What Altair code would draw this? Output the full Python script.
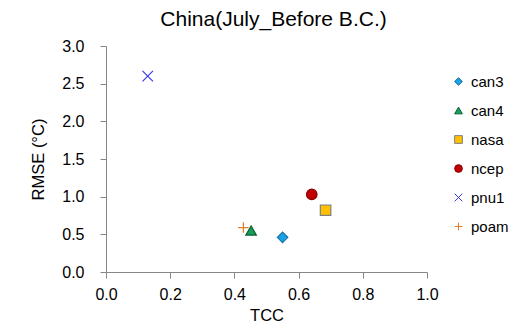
import altair as alt
import pandas as pd

models = ["can3", "can4", "nasa", "ncep", "pnu1", "poam"]
tcc = [0.55, 0.452, 0.684, 0.641, 0.13, 0.428]
rmse = [0.46, 0.55, 0.82, 1.03, 2.60, 0.59]

fill_colors = ["#1BA1E2", "#13A05A", "#FFC000", "#C00000", "transparent", "transparent"]
stroke_colors = ["#1673A8", "#0B5E33", "#7F7F7F", "#8B0000", "#3A3AF0", "#E07B29"]
shapes = ["diamond", "triangle-up", "square", "circle",
          "M-1,-1L1,1M-1,1L1,-1", "M-1,0L1,0M0,-1L0,1"]

df = pd.DataFrame({"model": models, "TCC": tcc, "RMSE": rmse})

font = "Liberation Sans"

chart = alt.Chart(df).mark_point(filled=False, strokeWidth=1.2, opacity=1, size=110).encode(
    x=alt.X("TCC:Q", title="TCC",
            scale=alt.Scale(domain=[0, 1], nice=False, zero=True),
            axis=alt.Axis(values=[0, 0.2, 0.4, 0.6, 0.8, 1.0], format=".1f")),
    y=alt.Y("RMSE:Q", title="RMSE (°C)",
            scale=alt.Scale(domain=[0, 3], nice=False),
            axis=alt.Axis(values=[0, 0.5, 1, 1.5, 2, 2.5, 3], format=".1f")),
    fill=alt.Fill("model:N", scale=alt.Scale(domain=models, range=fill_colors), title=None),
    stroke=alt.Stroke("model:N", scale=alt.Scale(domain=models, range=stroke_colors), title=None),
    shape=alt.Shape("model:N", scale=alt.Scale(domain=models, range=shapes), title=None),
).properties(
    width=321, height=226,
    title=alt.TitleParams("China(July_Before B.C.)", font=font, fontSize=21,
                          fontWeight="normal", color="#000000", offset=8, dx=7),
    autosize=alt.AutoSizeParams(type="none"),
    padding={"left": 98, "top": 38, "right": 82, "bottom": 52},
).configure_view(stroke=None).configure_axis(
    grid=False, domainColor="#868686", tickColor="#868686", tickSize=6,
    labelFont=font, labelFontSize=16, labelColor="#000000", labelFlush=False,
    titleFont=font, titleFontSize=16.5, titleColor="#000000", titleFontWeight="normal",
).configure_axisY(labelPadding=16, titlePadding=15).configure_axisX(
    labelPadding=8, titlePadding=5
).configure_legend(
    orient="none", legendX=345, legendY=28, padding=0, rowPadding=13,
    labelFont=font, labelFontSize=15, labelColor="#000000", labelOffset=5,
    symbolSize=60, symbolStrokeWidth=1,
)

chart.save("out.html", embed_options={"renderer": "svg", "actions": False})
